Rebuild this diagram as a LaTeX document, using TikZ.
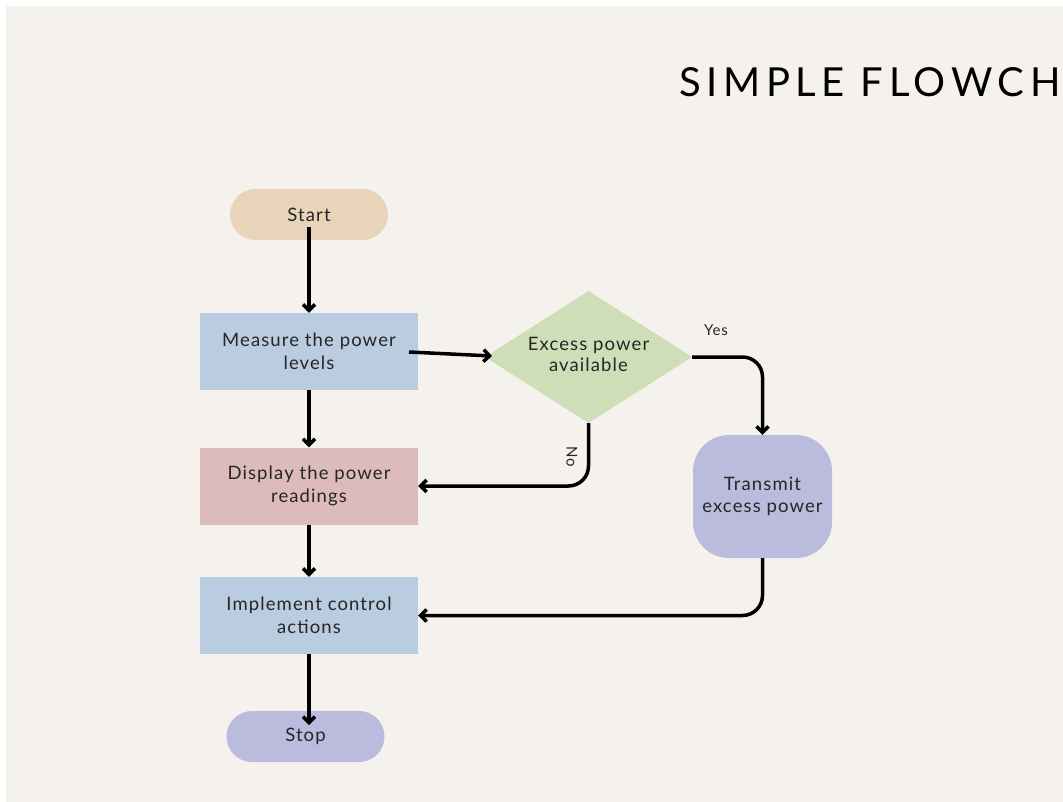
\documentclass[tikz,border=0pt]{standalone}
\usepackage{fontspec}
\setmainfont{Lato}[LetterSpace=6]
\newfontfamily\titlefont[LetterSpace=14]{Lato}
\usetikzlibrary{shapes.geometric,arrows.meta}
\definecolor{bg}{HTML}{F5F2EE}
\definecolor{cstart}{HTML}{E8D5B9}
\definecolor{cblue}{HTML}{BACCDF}
\definecolor{cgreen}{HTML}{CDDEB9}
\definecolor{cred}{HTML}{DEBBBB}
\definecolor{cviolet}{HTML}{BBBBDD}
\tikzset{
  txt/.style={font=\fontsize{18.5}{22.5}\selectfont, text=black!85, align=center},
  pill/.style={txt, rounded corners=25.5pt, minimum width=158pt, minimum height=51pt},
  procbox/.style={txt, minimum width=218pt, minimum height=77pt},
  decide/.style={txt, diamond, aspect=1.57, minimum width=207pt, minimum height=132pt, inner sep=0pt},
  conn/.style={line width=3.5pt, -{Straight Barb[length=6pt,width=12pt,line width=3.5pt]}},
  lbl/.style={font=\fontsize{15}{17}\selectfont, text=black!85},
}
\begin{document}
\begin{tikzpicture}[x=1pt,y=-1pt]
\useasboundingbox (0,0) rectangle (1063,802);
\clip (0,0) rectangle (1063,802);
\fill[white] (0,0) rectangle (1063,802);
\fill[bg] (6,6) rectangle (1063,802);
\node[anchor=base west, font=\fontsize{40}{43}\selectfont\titlefont, inner sep=0pt] (title) at (679,97) {SIMPLE FLOWCH};

\node[pill, fill=cstart] (start) at (309,214.5) {Start};
\node[procbox, fill=cblue] (measure) at (309,351.5) {Measure the power\\levels};
\node[decide, fill=cgreen] (excess) at (588.5,357) {\raisebox{5pt}{\shortstack{Excess power\\[1pt]available}}};
\node[procbox, fill=cred] (display) at (309,486) {Display the power\\readings};
\node[txt, fill=cviolet, rounded corners=36pt, minimum width=139pt, minimum height=123pt] (transmit) at (762.5,496.5) {Transmit\\excess power};
\node[procbox, fill=cblue] (implement) at (309,615.5) {Implement control\\actions};
\node[pill, fill=cviolet] (stop) at (305.5,736.5) {Stop};

\coordinate (startout) at (309,227);
\coordinate (stopin) at (309,725);
\coordinate (measout) at (409,352);
\coordinate (exin) at (492,356);

\draw[conn] (startout) -- (measure.north);
\draw[conn] (measout) -- (exin);
\draw[conn] (measure.south) -- (display.north);
\draw[conn, rounded corners=20pt] (excess.south) |- (display.east);
\draw[conn, rounded corners=20pt] (excess.east) -| (transmit.north);
\draw[conn] (display.south) -- (implement.north);
\draw[conn, rounded corners=20pt] (transmit.south) |- (implement.east);
\draw[conn] (implement.south) -- (stopin);

\node[lbl] (yes) at (716,330) {Yes};
\node[lbl, rotate=-90] (no) at (572,457) {No};
\end{tikzpicture}
\end{document}
